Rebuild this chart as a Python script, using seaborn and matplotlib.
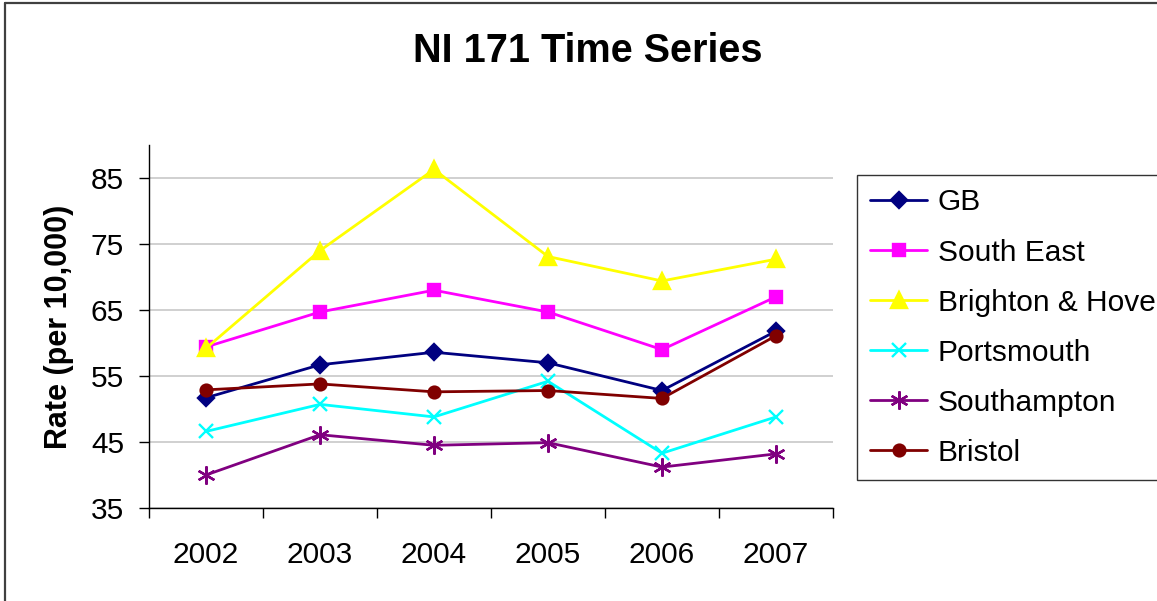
import matplotlib.pyplot as plt
import seaborn as sns
from matplotlib.lines import Line2D
from matplotlib.ticker import FixedLocator

sns.set_style("white")
plt.rcParams["font.family"] = ["Liberation Sans", "DejaVu Sans"]
plt.rcParams["text.color"] = "black"
plt.rcParams["axes.labelcolor"] = "black"
plt.rcParams["xtick.color"] = "black"
plt.rcParams["ytick.color"] = "black"

years = [2002, 2003, 2004, 2005, 2006, 2007]
gb = [51.7, 56.7, 58.6, 57.0, 52.8, 61.8]
south_east = [59.4, 64.7, 68.0, 64.7, 59.0, 67.0]
brighton = [59.2, 74.0, 86.3, 73.1, 69.4, 72.7]
portsmouth = [46.6, 50.7, 48.8, 54.2, 43.3, 48.8]
southampton = [40.0, 46.1, 44.5, 44.9, 41.2, 43.2]
bristol = [52.9, 53.8, 52.6, 52.8, 51.6, 61.1]

series = [
    ("GB", gb, "#000080", "D", 8.5),
    ("South East", south_east, "#FF00FF", "s", 8.5),
    ("Brighton & Hove", brighton, "#FFFF00", "^", 11),
    ("Portsmouth", portsmouth, "#00FFFF", "x", 10),
    ("Southampton", southampton, "#800080", (6, 2, 0), 13),
    ("Bristol", bristol, "#800000", "o", 8.5),
]

fig = plt.figure(figsize=(11.57, 6.01), dpi=100)
ax = fig.add_axes([149 / 1157, 93 / 601, 684 / 1157, 363 / 601])

for name, values, color, marker, ms in series:
    sns.lineplot(
        x=years,
        y=values,
        color=color,
        marker=marker,
        markersize=ms,
        markeredgecolor=color,
        markeredgewidth=1.7,
        linewidth=2.0,
        label=name,
        ax=ax,
    )

ax.set_xlim(2001.5, 2007.5)
ax.set_ylim(35, 90)
ax.set_yticks([35, 45, 55, 65, 75, 85])
ax.set_xticks(years)
ax.set_xticklabels([str(y) for y in years])
ax.xaxis.set_minor_locator(FixedLocator([2001.5 + i for i in range(7)]))
ax.tick_params(axis="x", which="major", length=0, pad=24, labelsize=21.5)
ax.tick_params(axis="x", which="minor", length=7, width=1, color="black", direction="out", bottom=True)
ax.tick_params(axis="y", length=7, width=1, color="black", direction="out", left=True, pad=11, labelsize=21.5)
ax.yaxis.grid(True, color="#c8c8c8", linewidth=1.2)
ax.xaxis.grid(False)
for side in ["top", "right"]:
    ax.spines[side].set_visible(False)
for side in ["left", "bottom"]:
    ax.spines[side].set_color("black")
    ax.spines[side].set_linewidth(1)

ax.set_xlabel("")
ax.set_ylabel("Rate (per 10,000)", fontsize=22, fontweight="bold", labelpad=12)

fig.text(588 / 1157, 1 - 51 / 601, "NI 171 Time Series", ha="center", va="center",
         fontsize=28.5, fontweight="bold")

leg = ax.legend(
    loc="upper left",
    bbox_to_anchor=(857 / 1157, 1 - 175 / 601),
    bbox_transform=fig.transFigure,
    borderaxespad=0,
    frameon=True,
    fancybox=False,
    fontsize=21.5,
    handlelength=1.9,
    handletextpad=0.35,
    labelspacing=0.74,
    borderpad=0.45,
)
leg.get_frame().set_edgecolor("black")
leg.get_frame().set_linewidth(1)

fig.add_artist(Line2D([5 / 1157, 5 / 1157], [0, 1 - 3 / 601], transform=fig.transFigure,
                      color="#404040", linewidth=1.6))
fig.add_artist(Line2D([5 / 1157, 1], [1 - 3 / 601, 1 - 3 / 601], transform=fig.transFigure,
                      color="#404040", linewidth=1.6))

fig.savefig("out.png", dpi=100)
